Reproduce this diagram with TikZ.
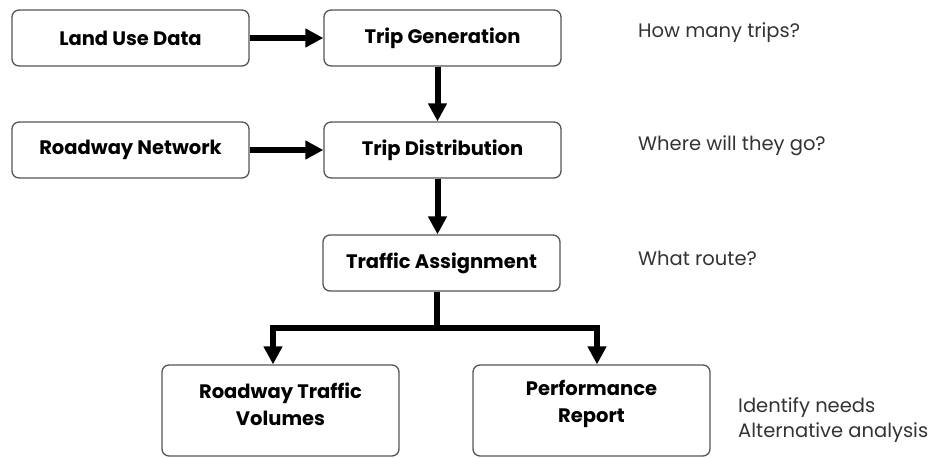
\documentclass[tikz,border=0pt]{standalone}
\usepackage{fontspec}
\setmainfont{Poppins}
\usetikzlibrary{arrows.meta}
\definecolor{edge}{HTML}{555555}
\definecolor{note}{HTML}{333333}
\tikzset{
  box/.style={draw=edge, line width=1.3pt, rounded corners=7pt, minimum width=237pt, minimum height=56pt, inner sep=0pt, fill=white},
  bigbox/.style={box, minimum height=91pt},
  lbl/.style={font=\fontsize{19.5}{27}\selectfont\bfseries, align=center, inner sep=0pt},
  notetext/.style={font=\fontsize{19.5}{25}\selectfont, text=note, anchor=west, align=left, inner sep=0pt},
  arr/.style={line width=6pt, -{Triangle[length=18pt,width=18pt]}, line join=miter},
  bar/.style={line width=6pt, line cap=butt}
}
\begin{document}
\begin{tikzpicture}[x=1pt,y=-1pt]
\useasboundingbox (0,0) rectangle (933,458);
\node[box] (lu) at (130.5,38) {};
\node[lbl] (lut) at (lu) {Land Use Data};
\node[box] (tg) at (442.5,38) {};
\node[lbl] (tgt) at (tg) {Trip Generation};
\node[box] (rn) at (130.5,150) {};
\node[lbl] (rnt) at (rn) {Roadway Network};
\node[box] (td) at (442.5,150) {};
\node[lbl] (tdt) at (td) {Trip Distribution};
\node[box] (ta) at (441.5,263) {};
\node[lbl] (tat) at (ta) {Traffic Assignment};
\node[bigbox] (rtv) at (280.5,410.5) {};
\node[lbl] (rtvt) at ([yshift=6.5pt]rtv.center) {Roadway Traffic\\Volumes};
\node[bigbox] (pr) at (591.5,410.5) {};
\node[lbl] (prt) at ([yshift=6.5pt]pr.center) {Performance\\Report};

\node[notetext] (n1) at (638,33) {How many trips?};
\node[notetext] (n2) at (638,146) {Where will they go?};
\node[notetext] (n3) at (638,258) {What route?};
\node[notetext] (n4) at (738,420) {Identify needs\\Alternative analysis};

\draw[arr] (lu.east) -- (tg.west);
\draw[arr] (rn.east) -- (td.west);
\draw[arr] ([xshift=-5pt]tg.south) -- ([xshift=-5pt]td.north);
\draw[arr] ([xshift=-5pt]td.south) -- ([xshift=-4pt]ta.north);
\coordinate (bj) at (437,328);
\draw[bar] ([xshift=-4.5pt]ta.south) -- ([yshift=3pt]bj);
\draw[arr] (bj) -| ([xshift=-7.5pt]rtv.north);
\draw[arr] (bj) -| ([xshift=5.5pt]pr.north);
\end{tikzpicture}
\end{document}
